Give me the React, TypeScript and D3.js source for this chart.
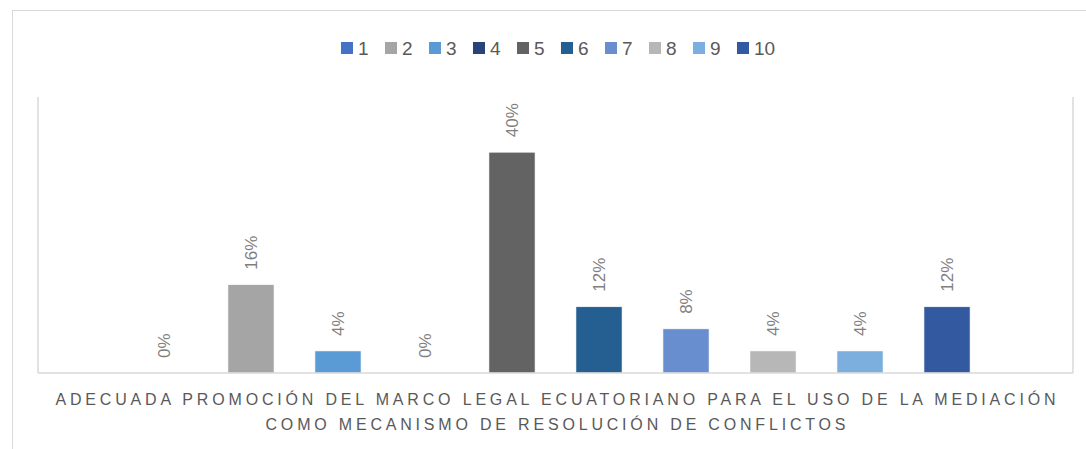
import React, { useRef, useEffect } from 'react';
import * as d3 from 'd3';

// one category, ten series (scores 1..10)
const category = 'ADECUADA PROMOCIÓN DEL MARCO LEGAL ECUATORIANO PARA EL USO DE LA MEDIACIÓN COMO MECANISMO DE RESOLUCIÓN DE CONFLICTOS';
const titleLines = [
  'ADECUADA PROMOCIÓN DEL MARCO LEGAL ECUATORIANO PARA EL USO DE LA MEDIACIÓN',
  'COMO MECANISMO DE RESOLUCIÓN DE CONFLICTOS',
];
const seriesNames = ['1', '2', '3', '4', '5', '6', '7', '8', '9', '10'];
const seriesValues = [0, 0.16, 0.04, 0, 0.4, 0.12, 0.08, 0.04, 0.04, 0.12];
const seriesColors = [
  '#4472c4', '#a5a5a5', '#5b9bd5', '#264478', '#636363',
  '#255e91', '#698ed0', '#b7b7b7', '#7cafdd', '#335aa1',
];

function App() {
  const svgRef = useRef<SVGSVGElement | null>(null);

  useEffect(() => {
    const width = 1086;
    const height = 449;
    const plot = { left: 38, right: 1073, top: 97, bottom: 373 };

    const svg = d3.select(svgRef.current)
      .attr('width', width)
      .attr('height', height);
    svg.selectAll('*').remove();

    svg.append('rect')
      .attr('width', width).attr('height', height)
      .attr('fill', '#fff');

    // outer chart frame (runs off the picture on right / bottom)
    svg.append('rect')
      .attr('x', 12.5).attr('y', 10.5)
      .attr('width', 1200).attr('height', 600)
      .attr('fill', 'none')
      .attr('stroke', '#d9d9d9');

    const x0 = d3.scaleBand()
      .domain([category])
      .range([plot.left, plot.right])
      .paddingInner(0)
      .paddingOuter(0.0948);

    const x1 = d3.scaleBand()
      .domain(seriesNames)
      .range([0, x0.bandwidth()])
      .paddingInner(0.47)
      .paddingOuter(0.235);

    const y = d3.scaleLinear()
      .domain([0, 0.5])
      .range([plot.bottom, plot.top]);

    const color = d3.scaleOrdinal<string, string>(seriesNames, seriesColors);
    const fmt = d3.format('.0%');

    const data = seriesNames.map((s, i) => ({ series: s, value: seriesValues[i] }));

    // plot area lines
    const frame = svg.append('g').attr('stroke', '#d9d9d9').attr('stroke-width', 1.5);
    frame.append('line')
      .attr('x1', plot.left).attr('x2', plot.left)
      .attr('y1', plot.top).attr('y2', plot.bottom);
    frame.append('line')
      .attr('x1', plot.right).attr('x2', plot.right)
      .attr('y1', plot.top).attr('y2', plot.bottom);

    const g = svg.append('g')
      .attr('transform', `translate(${x0(category)},0)`);

    g.selectAll('rect.bar')
      .data(data)
      .join('rect')
      .attr('class', 'bar')
      .attr('x', d => x1(d.series)!)
      .attr('width', x1.bandwidth())
      .attr('y', d => y(d.value))
      .attr('height', d => y(0) - y(d.value))
      .attr('fill', d => color(d.series))
      .attr('stroke', '#ffffff')
      .attr('stroke-width', 0.6);

    // data labels, rotated
    g.selectAll('text.lbl')
      .data(data)
      .join('text')
      .attr('class', 'lbl')
      .attr('transform', d => `translate(${x1(d.series)! + x1.bandwidth() / 2 + 6},${y(d.value) - 15}) rotate(-90)`)
      .attr('text-anchor', 'start')
      .attr('font-family', '"Liberation Sans", Arial, sans-serif')
      .attr('font-size', 17)
      .attr('fill', '#7f7f7f')
      .text(d => fmt(d.value));

    // x axis baseline
    svg.append('line')
      .attr('x1', plot.left).attr('x2', plot.right)
      .attr('y1', y(0)).attr('y2', y(0))
      .attr('stroke', '#d9d9d9')
      .attr('stroke-width', 1.5);

    // category label (two lines)
    const cx = (plot.left + plot.right) / 2;
    const widths = [1000, 580];
    svg.append('g')
      .selectAll('text')
      .data(titleLines)
      .join('text')
      .attr('x', cx)
      .attr('y', (d, i) => 405 + i * 24.5)
      .attr('text-anchor', 'middle')
      .attr('textLength', (d, i) => widths[i])
      .attr('lengthAdjust', 'spacing')
      .attr('font-family', '"Liberation Sans", Arial, sans-serif')
      .attr('font-size', 16)
      .attr('fill', '#595959')
      .text(d => d);

    // legend
    const lx = d3.scaleBand()
      .domain(seriesNames)
      .range([341, 341 + 44 * seriesNames.length]);
    const legend = svg.append('g');
    const items = legend.selectAll('g')
      .data(seriesNames)
      .join('g')
      .attr('transform', d => `translate(${lx(d)},0)`);
    items.append('rect')
      .attr('x', 0).attr('y', 42)
      .attr('width', 12).attr('height', 12)
      .attr('fill', d => color(d));
    items.append('text')
      .attr('x', 17).attr('y', 54.5)
      .attr('font-family', '"Liberation Sans", Arial, sans-serif')
      .attr('font-size', 19)
      .attr('fill', '#595959')
      .text(d => d);
  }, []);

  return (
    <div style={{ position: 'absolute', left: 0, top: 0 }}>
      <svg ref={svgRef} style={{ display: 'block' }}></svg>
    </div>
  );
}

export default App;
